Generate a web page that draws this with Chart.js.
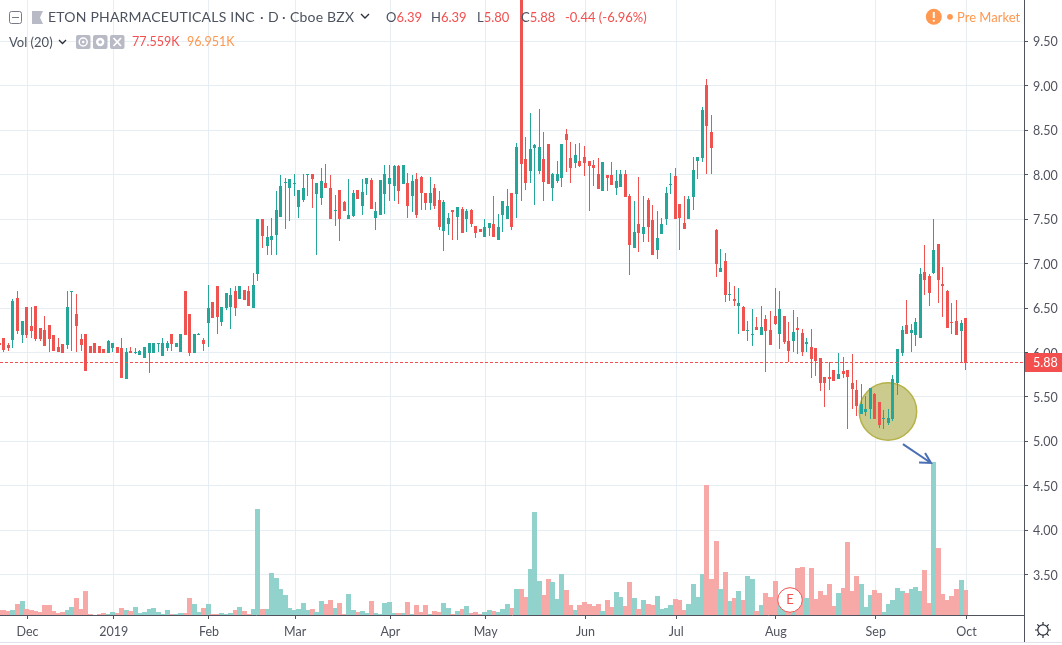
<!DOCTYPE html>
<html>
<head>
<meta charset="utf-8">
<title>ETON</title>
<script src="https://cdn.jsdelivr.net/npm/chart.js@4"></script>
<style>
html, body { margin: 0; padding: 0; background: #fff; overflow: hidden; }
#wrap { position: relative; width: 1062px; height: 645px; font-family: Lato, sans-serif; color: #4c525e; }
canvas { position: absolute; left: 0; top: 0; }
.t { position: absolute; white-space: nowrap; font-size: 14px; line-height: 16px; letter-spacing: .2px; }
.n { font-size: 13px; letter-spacing: 0; }
.r { color: #f44f4f; }
.o { color: #ff9850; }
svg { position: absolute; }
</style>
</head>
<body>
<div id="wrap">
  <canvas id="c" width="1062" height="645"></canvas>

  <svg style="left:9px;top:11px" width="14" height="14"><rect x=".5" y=".5" width="12" height="12" rx="2" fill="#fff" stroke="#787b86"/><path d="M3 6.5h7" stroke="#787b86"/></svg>
  <svg style="left:32px;top:11px" width="12" height="14"><path d="M0 0h11l-3 6.5 3 6.5H0z" fill="#b8bbc6"/></svg>
  <span class="t" style="left:48px;top:9px">ETON PHARMACEUTICALS INC</span>
  <span class="t" style="left:260px;top:9px">·</span>
  <span class="t" style="left:268px;top:9px">D</span>
  <span class="t" style="left:282px;top:9px">·</span>
  <span class="t" style="left:290px;top:9px">Cboe BZX</span>
  <svg style="left:360px;top:13px" width="10" height="7"><path d="M1 1l4 4 4-4" fill="none" stroke="#2a2e39" stroke-width="1.3"/></svg>
  <span class="t n" style="left:386px;top:9px">O<span class="r">6.39</span></span>
  <span class="t n" style="left:431px;top:9px">H<span class="r">6.39</span></span>
  <span class="t n" style="left:477px;top:9px">L<span class="r">5.80</span></span>
  <span class="t n" style="left:521px;top:9px">C<span class="r">5.88</span></span>
  <span class="t n r" style="left:565px;top:9px">-0.44 (-6.96%)</span>

  <span class="t n" style="left:9px;top:34px">Vol (20)</span>
  <svg style="left:58px;top:39px" width="9" height="7"><path d="M1 1l3.5 3.5L8 1" fill="none" stroke="#2a2e39" stroke-width="1.3"/></svg>
  <svg style="left:76px;top:35px" width="49" height="14">
    <rect width="14.5" height="14" rx="2" fill="#b8bbc6"/><rect x="17" width="14.5" height="14" rx="2" fill="#b8bbc6"/><rect x="34" width="14.5" height="14" rx="2" fill="#b8bbc6"/>
    <circle cx="7.2" cy="7" r="4" fill="none" stroke="#fff" stroke-width="1.5"/><circle cx="7.2" cy="7" r="1.3" fill="#fff"/>
    <circle cx="24.2" cy="7" r="3" fill="none" stroke="#fff" stroke-width="2.4"/>
    <path d="M37.5 3l7.5 8M45 3l-7.5 8" stroke="#fff" stroke-width="1.8"/>
  </svg>
  <span class="t n r" style="left:132px;top:34px;font-size:12.5px">77.559K</span>
  <span class="t n o" style="left:187px;top:34px;font-size:12.5px">96.951K</span>

  <svg style="left:925px;top:8px" width="31" height="18"><circle cx="8.8" cy="8.8" r="8" fill="#ff9850"/><path d="M8.8 4v6" stroke="#fff" stroke-width="2"/><circle cx="8.8" cy="12.8" r="1.1" fill="#fff"/><circle cx="25" cy="8.8" r="2.9" fill="#ff9850"/></svg>
  <span class="t n o" style="left:957px;top:9px">Pre Market</span>

  <div style="position:absolute;left:0;top:642px;width:1062px;height:1px;background:#e0e3eb"></div>
  <div style="position:absolute;left:1024px;top:615px;width:1px;height:27px;background:#50535e"></div>
  <svg style="left:1034px;top:621px" width="18" height="18"><circle cx="9" cy="9" r="5.2" fill="none" stroke="#2a2e39" stroke-width="1.2"/><path d="M9 1v3M9 14v3M1 9h3M14 9h3M3.3 3.3l2 2M12.7 12.7l2 2M14.7 3.3l-2 2M5.3 12.7l-2 2" stroke="#2a2e39" stroke-width="1.2"/></svg>
</div>

<script>
// daily candles, Nov 23 2018 -> Oct 1 2019
const opens = [
  6.11,6.16,6.08,6.14,6.61,6.20,6.51,6.30,6.52,6.28,
  6.25,6.31,6.20,6.06,6.10,6.08,6.68,6.43,6.15,6.21,
  6.07,6.11,6.07,6.04,5.99,6.05,6.06,6.05,5.70,6.02,
  5.99,5.97,5.94,5.99,5.99,6.10,5.96,6.05,6.21,6.06,
  6.01,6.69,6.43,5.99,6.20,6.14,6.33,6.57,6.75,6.34,
  6.50,6.51,6.69,6.60,6.70,6.69,6.50,6.88,7.50,7.20,
  7.27,7.32,7.52,7.91,7.85,7.90,7.64,7.72,8.00,8.01,
  7.78,7.74,7.91,7.85,7.59,7.83,7.69,7.50,7.53,7.83,
  7.65,7.90,7.94,7.51,7.55,7.78,7.90,7.87,8.10,7.90,
  7.91,7.76,7.95,7.97,7.79,7.68,7.85,7.72,7.37,7.45,
  7.60,7.52,7.61,7.50,7.60,7.42,7.39,7.30,7.40,7.45,
  7.27,7.55,7.50,7.79,7.78,10.30,8.18,8.04,8.30,8.04,
  8.18,8.35,7.85,7.93,7.96,8.46,8.19,8.13,8.15,8.20,
  8.15,8.11,8.01,7.82,8.00,8.00,7.85,7.86,8.01,7.76,
  7.18,7.45,7.33,7.72,7.49,7.15,7.33,7.50,7.89,7.99,
  7.67,7.46,7.50,7.75,8.15,8.19,9.01,8.48,7.38,6.91,
  7.03,6.65,6.60,6.52,6.51,6.24,6.20,6.29,6.20,6.38,
  6.25,6.41,6.21,6.41,6.13,6.13,6.28,6.22,6.10,6.06,
  6.05,5.94,5.72,5.72,5.80,5.70,5.79,5.80,5.66,5.58,
  5.31,5.33,5.36,5.53,5.44,5.25,5.21,5.25,5.66,5.99,
  6.31,6.22,6.20,6.16,6.91,6.86,6.89,7.22,6.77,6.69,
  6.34,6.35,6.24,6.39
]
const highs = [
  6.11,6.16,6.11,6.60,6.69,6.35,6.51,6.51,6.52,6.28,
  6.41,6.31,6.20,6.16,6.10,6.69,6.69,6.66,6.21,6.21,
  6.07,6.11,6.07,6.04,6.14,6.11,6.06,6.16,6.05,6.06,
  6.05,6.03,6.06,6.11,6.11,6.11,6.16,6.13,6.21,6.11,
  6.21,6.69,6.43,6.21,6.22,6.16,6.76,6.57,6.75,6.51,
  6.67,6.73,6.75,6.75,6.70,6.75,6.89,7.50,7.50,7.42,
  7.51,7.82,8.00,7.96,7.95,8.01,7.83,8.01,8.01,8.01,
  7.91,8.08,8.12,8.00,7.77,7.83,7.70,7.95,7.83,7.83,
  7.95,7.96,7.96,7.69,7.94,8.11,8.11,8.11,8.11,8.11,
  8.02,8.00,8.02,7.98,7.79,7.97,7.90,7.82,7.72,7.57,
  7.60,7.64,7.64,7.61,7.61,7.42,7.39,7.50,7.46,7.76,
  7.56,7.70,7.84,7.79,8.36,10.30,8.42,8.69,8.35,8.74,
  8.48,8.35,8.02,8.15,8.35,8.51,8.37,8.35,8.36,8.32,
  8.15,8.17,8.19,8.14,8.00,8.14,8.05,8.05,8.05,7.78,
  7.70,7.97,7.76,7.74,7.66,7.59,7.51,7.86,8.02,8.08,
  7.67,7.76,7.76,8.20,8.20,8.76,9.08,8.67,7.39,7.16,
  7.12,6.79,6.75,6.73,6.52,6.35,6.49,6.40,6.52,6.42,
  6.47,6.73,6.69,6.41,6.34,6.48,6.40,6.26,6.16,6.26,
  6.05,5.94,5.72,5.89,5.80,5.99,5.95,5.80,5.98,5.69,
  5.65,5.51,5.60,5.54,5.44,5.35,5.36,5.75,6.04,6.30,
  6.59,6.32,6.39,6.95,7.21,6.88,7.50,7.22,6.96,6.70,
  6.56,6.59,6.37,6.39
]
const lows = [
  6.08,6.01,6.02,6.05,6.21,6.11,6.16,6.16,6.13,6.13,
  6.07,6.01,6.02,6.01,5.99,6.04,6.02,6.01,6.02,5.79,
  5.99,5.99,5.99,5.99,5.99,6.01,5.99,5.71,5.70,5.99,
  5.98,5.97,5.94,5.77,5.99,6.01,5.96,6.02,6.02,6.06,
  6.01,6.20,5.96,5.99,6.20,6.02,6.06,6.39,6.21,6.30,
  6.48,6.26,6.41,6.60,6.59,6.52,6.50,6.80,7.18,7.10,
  7.10,7.10,7.52,7.39,7.48,7.76,7.51,7.69,7.76,7.63,
  7.10,7.66,7.85,7.50,7.42,7.25,7.59,7.50,7.52,7.73,
  7.55,7.77,7.61,7.38,7.55,7.56,7.70,7.70,7.67,7.90,
  7.51,7.58,7.51,7.60,7.60,7.60,7.61,7.38,7.14,7.32,
  7.27,7.27,7.34,7.36,7.41,7.29,7.36,7.30,7.31,7.30,
  7.27,7.36,7.50,7.38,7.51,7.70,7.83,7.91,7.66,8.01,
  7.70,7.90,7.70,7.91,7.86,8.03,7.91,8.08,8.09,7.99,
  7.59,7.87,7.84,7.82,7.82,7.88,7.77,7.86,7.75,6.87,
  7.18,7.13,7.24,7.24,7.10,7.05,7.33,7.43,7.78,7.50,
  7.15,7.39,7.50,7.60,7.95,8.14,8.01,8.01,6.85,6.91,
  6.57,6.58,6.52,6.21,6.24,6.13,6.07,6.25,6.20,5.78,
  6.08,6.31,6.04,6.10,5.89,6.01,5.98,5.96,6.01,5.71,
  5.74,5.57,5.39,5.58,5.68,5.70,5.71,5.14,5.36,5.29,
  5.31,5.29,5.25,5.25,5.15,5.14,5.18,5.23,5.52,5.96,
  6.21,6.01,6.07,6.16,6.65,6.52,6.88,6.56,6.40,6.28,
  6.21,6.20,5.89,5.80
]
const closes = [
  6.08,6.03,6.05,6.58,6.24,6.35,6.20,6.24,6.15,6.15,
  6.07,6.15,6.02,6.01,5.99,6.51,6.69,6.30,6.08,5.79,
  5.99,5.99,5.99,5.99,6.13,6.11,5.99,5.71,6.00,5.99,
  6.00,6.02,6.06,6.11,6.11,6.11,6.11,6.11,6.10,6.11,
  6.21,6.20,5.99,6.21,6.21,6.10,6.50,6.39,6.40,6.51,
  6.67,6.65,6.50,6.75,6.59,6.52,6.76,7.50,7.31,7.30,
  7.31,7.60,7.87,7.92,7.95,7.91,7.83,7.85,8.01,7.95,
  7.91,7.93,7.85,7.50,7.60,7.50,7.59,7.55,7.79,7.73,
  7.81,7.96,7.61,7.59,7.94,8.01,7.96,8.10,7.82,8.11,
  7.65,7.93,7.55,7.79,7.68,7.79,7.65,7.41,7.69,7.51,
  7.58,7.64,7.34,7.59,7.45,7.34,7.36,7.41,7.46,7.30,
  7.41,7.70,7.65,7.41,8.31,8.12,7.91,8.29,8.33,8.31,
  7.92,7.90,8.01,8.01,8.35,8.39,8.08,8.22,8.10,8.13,
  8.10,8.08,7.84,8.14,7.96,7.88,7.93,8.01,7.75,7.21,
  7.36,7.34,7.41,7.41,7.10,7.29,7.45,7.79,7.90,7.50,
  7.51,7.39,7.73,8.05,8.20,8.73,8.55,8.30,7.00,6.95,
  6.65,6.66,6.58,6.56,6.24,6.25,6.21,6.25,6.29,6.24,
  6.08,6.32,6.49,6.12,6.02,6.23,6.25,6.01,6.12,5.93,
  5.90,5.66,5.66,5.70,5.68,5.76,5.76,5.72,5.59,5.40,
  5.42,5.36,5.60,5.25,5.18,5.26,5.26,5.70,6.04,6.25,
  6.21,6.25,6.34,6.88,6.82,6.67,7.15,6.82,6.75,6.28,
  6.33,6.20,6.33,5.88
]

// volume in thousands, 1 = teal bar, 0 = pink bar
const volumes = [
  16,16,12,16,34,43,19,16,12,9,
  31,31,12,6,9,16,25,53,19,74,
  3,1,3,6,3,9,6,22,16,12,
  25,6,9,19,22,9,3,16,3,3,
  6,6,53,34,9,22,34,3,3,6,
  3,6,16,25,12,3,19,329,19,19,
  130,115,81,62,22,16,19,37,16,19,
  9,43,34,47,22,37,3,65,16,9,
  12,6,43,6,3,37,40,6,6,6,
  40,3,31,9,31,3,12,9,37,22,
  3,12,19,28,6,9,3,9,16,12,
  9,19,34,22,81,81,56,143,319,105,
  62,112,102,50,127,78,31,16,31,40,
  34,28,34,12,47,25,71,56,28,102,
  53,19,47,34,31,59,19,22,31,50,
  47,16,34,96,56,127,403,112,229,81,
  133,43,53,74,47,121,112,12,31,68,
  56,105,47,31,31,12,146,149,53,146,
  50,74,62,96,28,68,84,226,74,121,
  96,25,62,78,68,9,34,47,84,74,
  68,81,87,74,140,37,474,208,65,47,
  59,81,109,78
]
const volumeUp = [
  0,0,0,1,0,1,0,0,0,0,
  0,0,0,0,0,1,1,0,0,0,
  0,0,0,0,1,1,0,0,1,0,
  1,1,1,1,1,1,1,1,0,1,
  1,0,0,1,1,0,1,0,0,1,
  1,1,0,1,0,0,1,1,0,1,
  1,1,1,1,1,1,1,1,1,0,
  1,1,0,0,1,0,0,1,1,0,
  1,1,0,1,1,1,1,1,0,1,
  0,1,0,0,0,1,0,0,1,1,
  0,1,0,1,0,0,0,1,1,0,
  1,1,1,0,1,0,0,1,1,1,
  0,0,1,1,1,0,0,1,0,0,
  0,0,0,1,0,0,1,1,0,0,
  1,0,1,0,0,1,1,1,1,0,
  0,0,1,1,1,1,0,0,0,1,
  0,1,0,1,0,1,1,0,1,0,
  0,0,1,1,0,1,0,0,1,0,
  0,0,0,0,0,1,0,0,0,0,
  1,1,1,0,0,1,1,1,1,1,
  0,1,1,1,0,0,1,0,0,0,
  0,0,1,0
]

const monthBars = [6,25,46,65,86,107,129,149,171,193,213]
const monthLabels = ['Dec','2019','Feb','Mar','Apr','May','Jun','Jul','Aug','Sep','Oct']
const priceTicks = [3.5,4,4.5,5,5.5,6,6.5,7,7.5,8,8.5,9,9.5]
const lastPrice = [5.88]

const green = '#26a69a'
const red = '#ef5350'
const volGreen = '#92d2cc'
const volRed = '#f7a9a7'
const gridColor = '#e6edf3'
const axisColor = '#50535e'
const xMin = -0.063
const xMax = 225.69

let candleColor = opens.map(function(o, i) { return closes[i] >= o ? green : red })

const noFit = function(scale) {
  scale.paddingTop = 0
  scale.paddingBottom = 0
  scale.paddingLeft = 0
  scale.paddingRight = 0
}

// candles sit a pixel left of the gridlines and always land on whole pixels
const snapBars = {
  id: 'snapBars',
  afterDatasetsUpdate(chart) {
    chart.data.datasets.forEach(function(ds, d) {
      const meta = chart.getDatasetMeta(d)
      if (ds.type == 'line') {
        meta.data.forEach(function(pt) { pt.y = Math.floor(pt.y) - 0.5 })
        return
      }
      meta.data.forEach(function(el) {
        el.x = Math.floor(el.x - 0.9) + 0.5
        el.y = Math.round(el.y)
        el.base = Math.round(el.base)
        if (el.y == el.base) el.base = el.y + 1
      })
    })
  }
}

const drawings = {
  id: 'drawings',
  beforeDatasetsDraw(chart) {
    const ctx = chart.ctx
    const x = chart.scales.x
    const y = chart.scales.y
    ctx.save()
    ctx.beginPath()
    ctx.arc(x.getPixelForValue(195.7), y.getPixelForValue(5.336), 28.7, 0, Math.PI * 2)
    ctx.fillStyle = '#cbcb8d'
    ctx.fill()
    ctx.lineWidth = 1.5
    ctx.strokeStyle = '#b5b24a'
    ctx.stroke()
    ctx.restore()
  },
  afterDatasetsDraw(chart) {
    const ctx = chart.ctx
    const x = chart.scales.x
    const y = chart.scales.y
    ctx.save()

    // arrow pointing at the volume spike
    const tipX = x.getPixelForValue(205.2)
    const tipY = y.getPixelForValue(4.757)
    ctx.strokeStyle = '#4a6fb5'
    ctx.lineWidth = 2
    ctx.beginPath()
    ctx.moveTo(x.getPixelForValue(199), y.getPixelForValue(4.97))
    ctx.lineTo(tipX, tipY)
    ctx.moveTo(tipX - 12, tipY - 0.5)
    ctx.lineTo(tipX, tipY)
    ctx.lineTo(tipX - 6, tipY - 10)
    ctx.stroke()

    // earnings marker
    const ex = x.getPixelForValue(174.1)
    const ey = y.getPixelForValue(3.216)
    ctx.beginPath()
    ctx.arc(ex, ey, 12.3, 0, Math.PI * 2)
    ctx.fillStyle = '#fff'
    ctx.fill()
    ctx.lineWidth = 1
    ctx.strokeStyle = '#f44f4f'
    ctx.stroke()
    ctx.fillStyle = '#f44f4f'
    ctx.font = '13px Lato'
    ctx.textAlign = 'center'
    ctx.textBaseline = 'middle'
    ctx.fillText('E', ex, ey)
    ctx.restore()
  },
  afterDraw(chart) {
    const ctx = chart.ctx
    const py = Math.floor(chart.scales.y.getPixelForValue(lastPrice[0])) - 0.5
    ctx.save()
    ctx.fillStyle = '#f44f4f'
    ctx.fillRect(1025, py - 9.5, 37, 19)
    ctx.fillStyle = '#fff'
    ctx.font = '12.5px Lato'
    ctx.textAlign = 'left'
    ctx.textBaseline = 'middle'
    ctx.fillText(lastPrice[0].toFixed(2), 1033, py + 0.5)
    ctx.restore()
  }
}

new Chart(document.getElementById('c'), {
  type: 'bar',
  data: {
    datasets: [
      {
        type: 'line',
        data: [{ x: xMin, y: lastPrice[0] }, { x: xMax, y: lastPrice[0] }],
        borderColor: '#f44f4f',
        borderWidth: 1,
        borderDash: [3, 2],
        pointRadius: 0,
        order: 1
      },
      {
        type: 'bar',
        data: opens.map(function(o, i) { return { x: i, y: [o, closes[i]] } }),
        backgroundColor: candleColor,
        barThickness: 3,
        grouped: false,
        inflateAmount: 0,
        order: 2
      },
      {
        type: 'bar',
        data: lows.map(function(l, i) { return { x: i, y: [l, highs[i]] } }),
        backgroundColor: candleColor,
        barThickness: 1,
        grouped: false,
        inflateAmount: 0,
        order: 3
      },
      {
        type: 'bar',
        yAxisID: 'vol',
        data: volumes.map(function(v, i) { return { x: i, y: v } }),
        backgroundColor: volumeUp.map(function(u) { return u ? volGreen : volRed }),
        barThickness: 5,
        grouped: false,
        inflateAmount: 0,
        order: 4
      }
    ]
  },
  options: {
    responsive: false,
    animation: false,
    layout: { padding: 0 },
    plugins: { legend: { display: false }, tooltip: { enabled: false } },
    scales: {
      x: {
        type: 'linear',
        min: xMin,
        max: xMax,
        offset: false,
        afterBuildTicks: function(scale) {
          scale.ticks = monthBars.map(function(v) { return { value: v } })
        },
        afterFit: function(scale) {
          noFit(scale)
          scale.height = 30
        },
        grid: { color: gridColor, tickColor: axisColor, tickLength: 4, offset: false },
        border: { color: axisColor },
        ticks: {
          autoSkip: false,
          maxRotation: 0,
          padding: 5,
          color: axisColor,
          font: { family: 'Lato', size: 12.5 },
          callback: function(v, i) { return monthLabels[i] }
        }
      },
      y: {
        position: 'right',
        min: 3.047,
        max: 9.965,
        afterBuildTicks: function(scale) {
          scale.ticks = priceTicks.map(function(v) { return { value: v } })
        },
        afterFit: function(scale) {
          noFit(scale)
          scale.width = 38
        },
        grid: { color: gridColor, tickColor: axisColor, tickLength: 4 },
        border: { color: axisColor },
        ticks: {
          padding: 5,
          labelOffset: 1,
          color: axisColor,
          font: { family: 'Lato', size: 12.5 },
          callback: function(v) { return v.toFixed(2) }
        }
      },
      vol: { display: false, min: 0, max: 1906.5 }
    }
  },
  plugins: [snapBars, drawings]
})
</script>
</body>
</html>
